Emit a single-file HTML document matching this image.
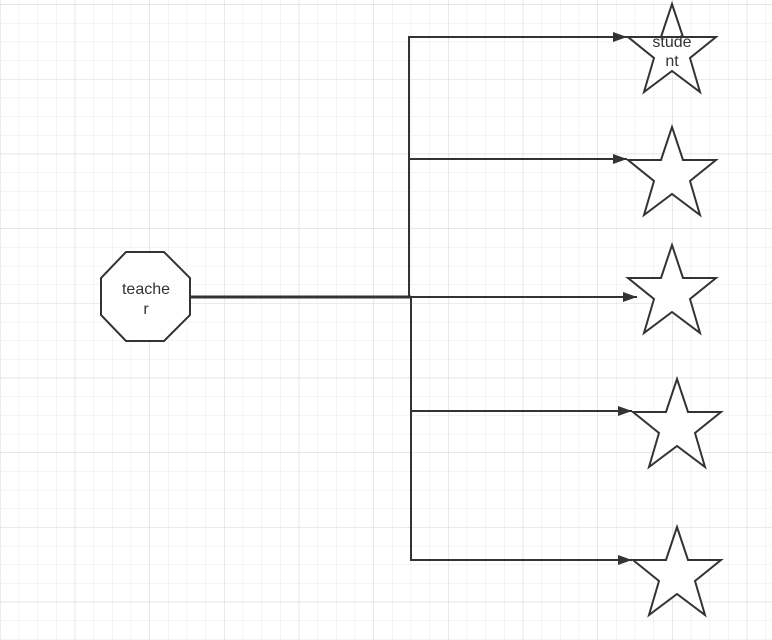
<!DOCTYPE html>
<html><head><style>
html,body{margin:0;padding:0;background:#fff;}
svg{display:block;}
</style></head><body>
<svg width="772" height="640" xmlns="http://www.w3.org/2000/svg">
<defs>
<pattern id="g" x="0" y="4.3" width="18.67" height="18.67" patternUnits="userSpaceOnUse">
<path d="M0 0V18.67M0 0H18.67" stroke="#e8e8e8" stroke-width="1" fill="none"/>
</pattern>
<pattern id="G" x="0" y="4.3" width="74.67" height="74.67" patternUnits="userSpaceOnUse">
<path d="M0 0V74.67M0 0H74.67" stroke="#d8d8d8" stroke-width="1" fill="none"/>
</pattern>
<marker id="a" markerWidth="14" markerHeight="10" refX="14" refY="5" orient="auto" markerUnits="userSpaceOnUse">
<path d="M0 0L14 5L0 10Z" fill="#333"/>
</marker>
<g id="s"><path d="M44 0L55 33L88 33L62 54L72 88L44 67L16 88L26 54L0 33L33 33Z" fill="#fff" stroke="#333" stroke-width="2" stroke-linejoin="miter"/></g>
</defs>
<rect width="772" height="640" fill="url(#g)"/>
<rect width="772" height="640" fill="url(#G)"/>
<g stroke="#333" stroke-width="2" fill="none">
<path d="M409 297V37H627" marker-end="url(#a)"/>
<path d="M409 159H627" marker-end="url(#a)"/>
<path d="M190 297H411" stroke-width="3"/>
<path d="M411 297H637" marker-end="url(#a)"/>
<path d="M411 297V560H632" marker-end="url(#a)"/>
<path d="M411 411H632" marker-end="url(#a)"/>
</g>
<path d="M126 252H164L190 278V315L164 341H126L101 315V278Z" fill="#fff" stroke="#333" stroke-width="2"/>
<g font-family="Liberation Sans, sans-serif" font-size="16" fill="#333" text-anchor="middle">
<text x="146" y="294">teache</text>
<text x="146" y="314">r</text>
</g>
<use href="#s" x="628" y="4"/>
<use href="#s" x="628" y="127"/>
<use href="#s" x="628" y="245"/>
<use href="#s" x="633" y="379"/>
<use href="#s" x="633" y="527"/>
<path d="M627 37H716" stroke="#333" stroke-width="2"/>
<g font-family="Liberation Sans, sans-serif" font-size="16" fill="#333" text-anchor="middle">
<text x="672" y="47">stude</text>
<text x="672" y="66">nt</text>
</g>
</svg>
</body></html>
